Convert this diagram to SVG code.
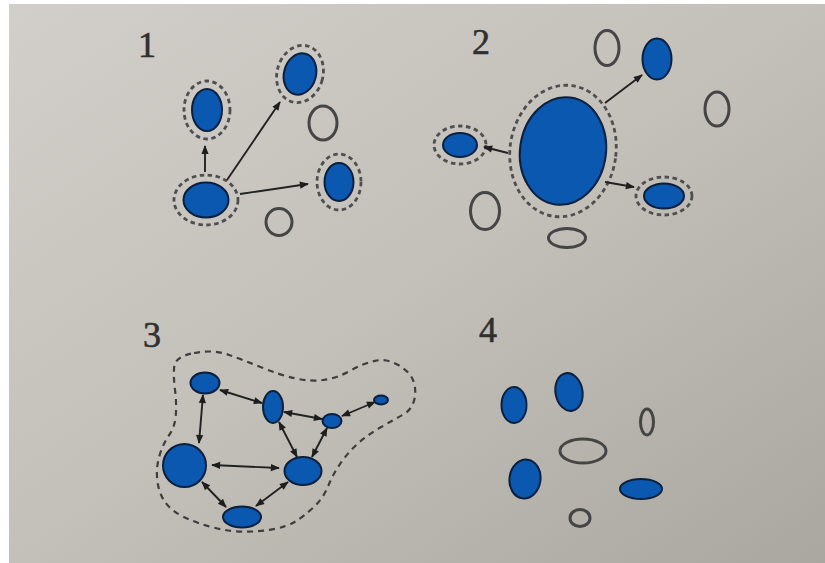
<svg xmlns="http://www.w3.org/2000/svg" width="825" height="563" viewBox="0 0 825 563">
<defs>
<linearGradient id="bg" x1="0" y1="0" x2="1" y2="1">
<stop offset="0" stop-color="#d2cfca"/>
<stop offset="0.5" stop-color="#c3c0ba"/>
<stop offset="1" stop-color="#aaa7a1"/>
</linearGradient>
<marker id="ah" viewBox="0 0 10 10" refX="9" refY="5" markerWidth="10" markerHeight="9" markerUnits="userSpaceOnUse" orient="auto-start-reverse">
<path d="M0,1 L10,5 L0,9 z" fill="#1e1e1e"/>
</marker>
</defs>
<style>
.num{font-family:"Liberation Serif","DejaVu Serif",serif;font-size:36px;fill:#303030;stroke:#303030;stroke-width:0.6}
.fill{fill:#0a58b0;stroke:#0c1f3d;stroke-width:2}
.ring{fill:none;stroke:#4f4f4f;stroke-width:2.8;stroke-dasharray:4.5 3.5}
.hollow{fill:none;stroke:#454545;stroke-width:3}
.arr{fill:none;stroke:#222;stroke-width:1.9;marker-end:url(#ah)}
.darr{fill:none;stroke:#222;stroke-width:1.9;marker-end:url(#ah);marker-start:url(#ah)}
.blob{fill:none;stroke:#3e3e3e;stroke-width:2.2;stroke-dasharray:6 5}
</style>
<rect x="0" y="0" width="825" height="563" fill="#ffffff"/>
<rect x="9" y="4" width="816" height="559" fill="url(#bg)"/>

<g id="labels">
<text class="num" x="138" y="57">1</text>
<text class="num" x="472" y="54">2</text>
<text class="num" x="143" y="347">3</text>
<text class="num" x="479" y="342">4</text>
</g>

<!-- Panel 1 -->
<g id="p1-ul"><ellipse class="ring" cx="207" cy="110" rx="23" ry="29"/><ellipse class="fill" cx="207" cy="110" rx="15" ry="21"/></g>
<g id="p1-ur"><ellipse class="ring" cx="300" cy="74" rx="23" ry="29" transform="rotate(15 300 74)"/><ellipse class="fill" cx="300" cy="74" rx="16" ry="21" transform="rotate(15 300 74)"/></g>
<g id="p1-r"><ellipse class="ring" cx="339" cy="182" rx="22" ry="28"/><ellipse class="fill" cx="339" cy="182" rx="14.5" ry="19"/></g>
<g id="p1-src"><ellipse class="ring" cx="206" cy="200" rx="32" ry="25"/><ellipse class="fill" cx="206" cy="200" rx="22.5" ry="17.5"/></g>
<g id="p1-h1"><ellipse class="hollow" cx="323" cy="123" rx="14" ry="17"/></g>
<g id="p1-h2"><ellipse class="hollow" cx="279" cy="222" rx="13" ry="13.5"/></g>

<!-- Panel 2 -->
<g id="p2-big"><ellipse class="ring" cx="563" cy="151" rx="53" ry="66" transform="rotate(8 563 151)"/><ellipse class="fill" cx="563" cy="151" rx="43" ry="54" transform="rotate(8 563 151)"/></g>
<g id="p2-left"><ellipse class="ring" cx="460" cy="145" rx="26" ry="19"/><ellipse class="fill" cx="460" cy="145" rx="17" ry="12"/></g>
<g id="p2-ur"><ellipse class="fill" cx="657" cy="59" rx="14.5" ry="20.5"/></g>
<g id="p2-lr"><ellipse class="ring" cx="664" cy="196" rx="28" ry="19"/><ellipse class="fill" cx="664" cy="196" rx="20" ry="12.5"/></g>
<g id="p2-h1"><ellipse class="hollow" cx="607" cy="48" rx="12" ry="17.5"/></g>
<g id="p2-h2"><ellipse class="hollow" cx="717" cy="109" rx="12" ry="17"/></g>
<g id="p2-h3"><ellipse class="hollow" cx="485" cy="211" rx="14.5" ry="18.5"/></g>
<g id="p2-h4"><ellipse class="hollow" cx="567" cy="238" rx="18.5" ry="9.5"/></g>

<!-- Panel 3 -->
<g id="p3-blob"><path class="blob" d="M194,353 Q213.3,349.3 228.3,354.7 Q243.3,360 261.7,367.5 Q280,375 295,378.3 Q310,381.7 323.3,380 Q336.7,378.3 350,370.8 Q363.3,363.3 375,360.8 Q386.7,358.3 398.3,365 Q410,371.7 413.3,380.8 Q416.7,390 414.2,400 Q411.7,410 402.5,415 Q393.3,420 381.7,426.7 Q370,433.3 360,441.7 Q350,450 341.7,461.7 Q333.3,473.3 328.3,485.8 Q323.3,498.3 313.3,507.5 Q303.3,516.7 295,521.7 Q286.7,526.7 273.3,529.2 Q260,531.7 245,531.7 Q230,531.7 213.3,527.5 Q196.7,523.3 183.3,516.7 Q170,510 164.2,500.8 Q158.3,491.7 157.2,479.2 Q156,466.7 159.7,455 Q163.3,443.3 169.2,435 Q175,426.7 175.8,415 Q176.7,403.3 175,390 Q173.3,376.7 174.2,366.7 Q175,356.7 194,353 Z"/></g>
<g id="p3-A"><ellipse class="fill" cx="205" cy="383" rx="14.5" ry="10.5"/></g>
<g id="p3-B"><ellipse class="fill" cx="273" cy="407" rx="10" ry="16"/></g>
<g id="p3-C"><ellipse class="fill" cx="332" cy="421" rx="9.5" ry="7"/></g>
<g id="p3-D"><ellipse class="fill" cx="381" cy="400" rx="7" ry="4.5"/></g>
<g id="p3-E"><ellipse class="fill" cx="184.5" cy="465.5" rx="21.5" ry="21.5"/></g>
<g id="p3-F"><ellipse class="fill" cx="303" cy="471" rx="18.5" ry="14"/></g>
<g id="p3-G"><ellipse class="fill" cx="242" cy="517" rx="19" ry="10.5"/></g>

<!-- Panel 4 -->
<g id="p4-a"><ellipse class="fill" cx="514" cy="405" rx="12.5" ry="18"/></g>
<g id="p4-b"><ellipse class="fill" cx="569" cy="392" rx="13.5" ry="19" transform="rotate(-10 569 392)"/></g>
<g id="p4-c"><ellipse class="fill" cx="525" cy="479" rx="15.5" ry="19.5" transform="rotate(8 525 479)"/></g>
<g id="p4-d"><ellipse class="fill" cx="641" cy="489" rx="21" ry="10"/></g>
<g id="p4-h1"><ellipse class="hollow" cx="583" cy="451" rx="23" ry="12"/></g>
<g id="p4-h2"><ellipse class="hollow" cx="647" cy="422" rx="6.5" ry="13"/></g>
<g id="p4-h3"><ellipse class="hollow" cx="580" cy="518" rx="10" ry="8.5"/></g>

<g id="connectors">
<line class="arr" x1="205" y1="172" x2="205" y2="146"/>
<line class="arr" x1="227" y1="180" x2="280" y2="102"/>
<line class="arr" x1="240" y1="194" x2="308" y2="184"/>
<line class="arr" x1="605" y1="103" x2="642" y2="75"/>
<line class="arr" x1="508" y1="153" x2="484" y2="147"/>
<line class="arr" x1="605" y1="182" x2="634" y2="187"/>
<line class="darr" x1="220" y1="390" x2="262" y2="403"/>
<line class="darr" x1="203" y1="395" x2="199" y2="443"/>
<line class="darr" x1="284" y1="412" x2="322" y2="419"/>
<line class="darr" x1="342" y1="416" x2="375" y2="402"/>
<line class="darr" x1="279" y1="422" x2="297" y2="457"/>
<line class="darr" x1="327" y1="428" x2="312" y2="457"/>
<line class="darr" x1="212" y1="465" x2="279" y2="468"/>
<line class="darr" x1="202" y1="482" x2="226" y2="507"/>
<line class="darr" x1="288" y1="482" x2="256" y2="506"/>
</g>
</svg>
